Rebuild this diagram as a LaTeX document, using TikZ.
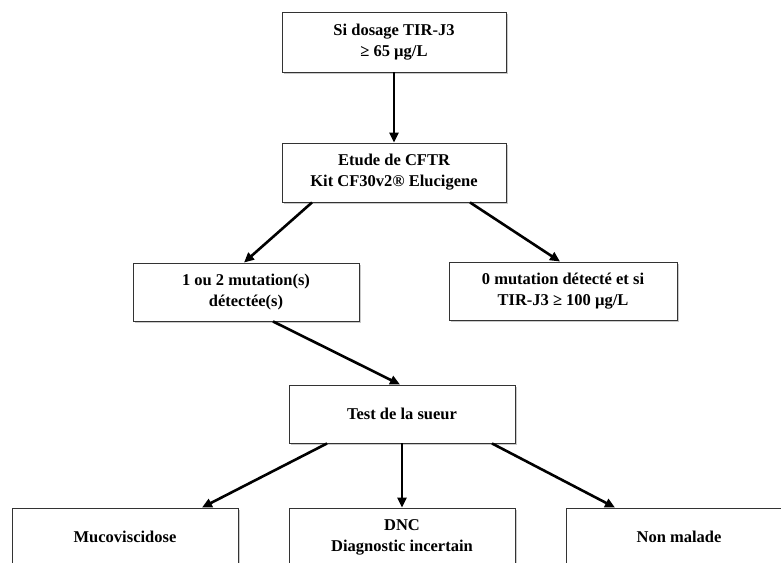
\documentclass[tikz,border=0pt]{standalone}
\usepackage{fontspec}
\setmainfont{Liberation Serif}
\usetikzlibrary{arrows.meta,shadows}
\begin{document}
\begin{tikzpicture}[x=1pt,y=1pt,
  box/.style={draw=black!80, line width=0.9pt, fill=white, align=center,
    inner sep=0pt, font=\fontsize{16.5}{21}\selectfont\bfseries,
    drop shadow={shadow xshift=2pt, shadow yshift=-2pt, fill=black!35, opacity=0.6}},
  arr/.style={line width=2.6pt, -{Triangle[length=10pt,width=9pt]}}]
\useasboundingbox (0,0) rectangle (781,562);
\clip (0,0) rectangle (781,562);
\node[box, minimum width=224pt, minimum height=60pt] (A) at (394,520) {Si dosage TIR-J3\\≥ 65 µg/L};
\node[box, minimum width=224pt, minimum height=59pt] (B) at (394,389.5) {Etude de CFTR\\Kit CF30v2® Elucigene};
\node[box, minimum width=226pt, minimum height=58pt] (C) at (246,270) {1 ou 2 mutation(s)\\détectée(s)};
\node[box, minimum width=228pt, minimum height=58pt] (D) at (563,271) {0 mutation détecté et si\\TIR-J3 ≥ 100 µg/L};
\node[box, minimum width=226pt, minimum height=58pt] (E) at (402,148) {Test de la sueur};
\node[box, minimum width=226pt, minimum height=58pt] (F1) at (125,25) {Mucoviscidose};
\node[box, minimum width=226pt, minimum height=58pt] (F2) at (402,25) {DNC\\Diagnostic incertain};
\node[box, minimum width=226pt, minimum height=58pt] (F3) at (679,25) {Non malade};
\draw[arr] (A.south) -- (B.north);
\draw[arr] ([xshift=-82pt]B.south) -- ([xshift=-2pt]C.north);
\draw[arr] ([xshift=76pt]B.south) -- ([xshift=-3pt]D.north);
\draw[arr] ([xshift=27pt]C.south) -- ([xshift=-2pt]E.north);
\draw[arr] ([xshift=-75pt]E.south) -- ([xshift=77pt]F1.north);
\draw[arr] (E.south) -- (F2.north);
\draw[arr] ([xshift=90pt]E.south) -- ([xshift=-64pt]F3.north);
\end{tikzpicture}
\end{document}
